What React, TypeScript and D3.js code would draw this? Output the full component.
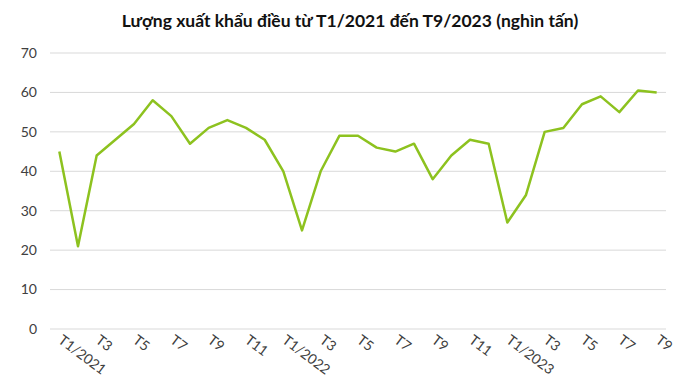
import React, { useEffect, useRef } from "react";
import * as d3 from "d3";

// Monthly labels T1/2021 .. T9/2023
const months = [
  "T1/2021", "T2", "T3", "T4", "T5", "T6", "T7", "T8", "T9", "T10", "T11", "T12",
  "T1/2022", "T2", "T3", "T4", "T5", "T6", "T7", "T8", "T9", "T10", "T11", "T12",
  "T1/2023", "T2", "T3", "T4", "T5", "T6", "T7", "T8", "T9",
];

// Export volume (thousand tonnes)
const volumes = [
  45, 21, 44, 48, 52, 58, 54, 47, 51, 53, 51, 48,
  40, 25, 40, 49, 49, 46, 45, 47, 38, 44, 48, 47,
  27, 34, 50, 51, 57, 59, 55, 60.5, 60,
];

const yTicks = [0, 10, 20, 30, 40, 50, 60, 70];
const title = "Lượng xuất khẩu điều từ T1/2021 đến T9/2023 (nghìn tấn)";

const App: React.FC = () => {
  const svgRef = useRef<SVGSVGElement | null>(null);

  useEffect(() => {
    const width = 700;
    const height = 390;
    const margin = { top: 53, right: 34, bottom: 61, left: 50 };
    const font = "Lato, 'Open Sans', sans-serif";

    const svg = d3.select(svgRef.current);
    svg.selectAll("*").remove();
    svg.attr("width", width).attr("height", height);

    svg
      .append("rect")
      .attr("width", width)
      .attr("height", height)
      .attr("fill", "#fff");

    const idx = months.map((_, i) => i);
    const xScale = d3
      .scaleBand<number>()
      .domain(idx)
      .range([margin.left, width - margin.right]);

    const yScale = d3
      .scaleLinear()
      .domain([0, 70])
      .range([height - margin.bottom, margin.top]);

    // Title
    svg
      .append("text")
      .attr("x", width / 2)
      .attr("y", 27)
      .attr("text-anchor", "middle")
      .attr("font-family", font)
      .attr("font-weight", "bold")
      .attr("font-size", 17.5)
      .attr("fill", "#111")
      .text(title);

    // Gridlines + y labels
    const grid = svg.append("g");
    yTicks.forEach((t) => {
      grid
        .append("line")
        .attr("x1", margin.left)
        .attr("x2", width - margin.right)
        .attr("y1", yScale(t))
        .attr("y2", yScale(t))
        .attr("stroke", "#d9d9d9")
        .attr("stroke-width", 1);
      grid
        .append("text")
        .attr("x", 37)
        .attr("y", yScale(t))
        .attr("dy", "0.35em")
        .attr("text-anchor", "end")
        .attr("font-family", font)
        .attr("font-size", 14)
        .attr("fill", "#404040")
        .text(t);
    });

    // X labels, every other month, rotated
    const half = xScale.bandwidth() / 2;
    idx
      .filter((i) => i % 2 === 0)
      .forEach((i) => {
        const x = (xScale(i) ?? 0) + half - 2;
        const y = yScale(0) + 13;
        svg
          .append("text")
          .attr("transform", `translate(${x},${y}) rotate(37)`)
          .attr("text-anchor", "start")
          .attr("font-family", font)
          .attr("font-size", 14)
          .attr("fill", "#404040")
          .text(months[i]);
      });

    // Line
    const line = d3
      .line<number>()
      .x((_, i) => (xScale(i) ?? 0) + half)
      .y((d) => yScale(d));

    svg
      .append("path")
      .datum(volumes)
      .attr("d", line)
      .attr("fill", "none")
      .attr("stroke", "#8dc21f")
      .attr("stroke-width", 2.5)
      .attr("stroke-linejoin", "round");
  }, []);

  return (
    <div style={{ position: "absolute", left: 0, top: 0 }}>
      <svg ref={svgRef}></svg>
    </div>
  );
};

export default App;
